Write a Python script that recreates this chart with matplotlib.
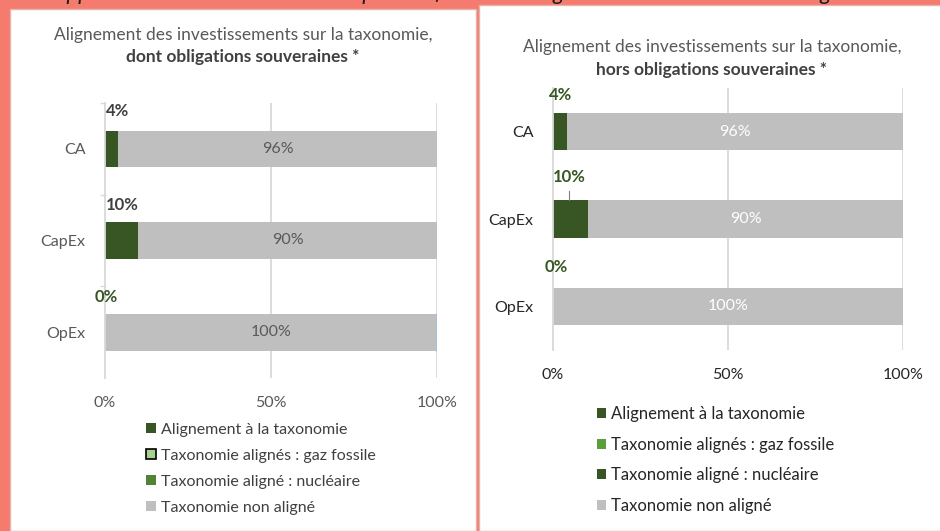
import numpy as np
import matplotlib
matplotlib.use("Agg")
from matplotlib import pyplot as plt
from matplotlib.patches import Rectangle, Patch

# Data (percent of investments)
categories = ["CA", "CapEx", "OpEx"]
aligned = [4, 10, 0]
gas = [0, 0, 0]
nuclear = [0, 0, 0]
not_aligned = [96, 90, 100]
legend_labels = ["Alignement à la taxonomie", "Taxonomie alignés : gaz fossile",
                 "Taxonomie aligné : nucléaire", "Taxonomie non aligné"]
xticks = [0, 50, 100]
xticklabels = ["0%", "50%", "100%"]

CORAL = "#F47B6E"
DARK_GREEN = "#375623"
GREY_BAR = "#BFBFBF"
GRID = "#D9D9D9"

W, H = 940, 531
plt.rcParams["font.family"] = ["Lato", "DejaVu Sans"]


def px(x0, y0, x1, y1):
    # pixel box (top-left origin) -> figure coords rect
    return [x0 / W, 1 - y1 / H, (x1 - x0) / W, (y1 - y0) / H]


def draw_panel(ax, bar_h, in_color, tick_color, boundary_ticks):
    y = np.arange(len(categories))
    left = np.zeros(len(categories))
    ax.barh(y, aligned, bar_h, left=left, color=DARK_GREEN)
    left += aligned
    ax.barh(y, gas, bar_h, left=left, color="#A9D18E")
    left += gas
    ax.barh(y, nuclear, bar_h, left=left, color="#548235")
    left += nuclear
    bars = ax.barh(y, not_aligned, bar_h, left=left, color=GREY_BAR)
    for b, v in zip(bars, not_aligned):
        ax.text(b.get_x() + b.get_width() / 2, b.get_y() + b.get_height() / 2, f"{v}%",
                ha="center", va="center", fontsize=11.5, color=in_color)
    ax.set_xlim(0, 100)
    ax.set_ylim(2.5, -0.5)
    ax.set_xticks(xticks, xticklabels)
    ax.set_yticks(y, categories)
    ax.tick_params(axis="x", length=0, pad=13, labelsize=11.5, labelcolor=tick_color)
    ax.tick_params(axis="y", length=0, pad=14, labelsize=11.5, labelcolor=tick_color)
    for s in ["top", "right", "bottom"]:
        ax.spines[s].set_visible(False)
    ax.spines["left"].set_color(GRID)
    ax.spines["left"].set_linewidth(1.3)
    for xv in [50, 100]:
        ax.axvline(xv, color=GRID, lw=1.3, zorder=0)
    ax.set_axisbelow(True)
    if boundary_ticks:
        for yb in [-0.5, 0.5, 1.5]:
            ax.plot([-1.2, 0], [yb, yb], color=GRID, lw=1, clip_on=False)
    ax.set_facecolor("none")


fig = plt.figure(figsize=(W / 100, H / 100), dpi=100, facecolor=CORAL)

# white panels
fig.patches.append(Rectangle((10 / W, 0), 466 / W, 1 - 9 / H, transform=fig.transFigure,
                             facecolor="white", edgecolor="#E9B3AD", lw=1, zorder=-5))
fig.patches.append(Rectangle((479 / W, 0), 465 / W, 1 - 5 / H, transform=fig.transFigure,
                             facecolor="white", edgecolor="#E9B3AD", lw=1, zorder=-5))

# clipped caption above the panels (only its lower edge shows, as in the source)
fig.text(0.5, 1.0, "Rapport de l'approche des investissements du produit financier : alignement avec et sans les obligations souveraines",
         ha="center", va="baseline", fontsize=16, style="italic", color="#1a1a1a", zorder=-6)

# ---- left panel
ax1 = fig.add_axes(px(105, 103, 437, 378))
draw_panel(ax1, 0.40, "#595959", "#595959", True)
fig.text(243 / W, 1 - 35 / H, "Alignement des investissements sur la taxonomie,",
         ha="center", va="center", fontsize=12.5, color="#595959")
fig.text(243 / W, 1 - 57 / H, "dont obligations souveraines *",
         ha="center", va="center", fontsize=12.5, color="#404040", weight="bold")
ax1.text(0.3, -0.41, f"{aligned[0]}%", ha="left", va="center", fontsize=12,
         weight="bold", color="#404040")
ax1.text(0.3, 0.61, f"{aligned[1]}%", ha="left", va="center", fontsize=12,
         weight="bold", color="#404040")
ax1.text(0.3, 1.62, f"{aligned[2]}%", ha="center", va="center", fontsize=12,
         weight="bold", color=DARK_GREEN)
# thin blue edge at the end of the OpEx bar
ax1.plot([100, 100], [2 - 0.2, 2 + 0.2], color="#9DC3E6", lw=1.2)

h1 = [Patch(facecolor=DARK_GREEN),
      Patch(facecolor="#A9D18E", edgecolor="black", lw=1.2),
      Patch(facecolor="#548235"),
      Patch(facecolor=GREY_BAR)]
fig.legend(h1, legend_labels, loc="upper left", bbox_to_anchor=(146 / W, 1 - 423 / H),
           frameon=False, fontsize=11.5, labelcolor="#404040", borderpad=0, borderaxespad=0,
           handlelength=0.6, handleheight=0.6, handletextpad=0.35, labelspacing=0.75)

# ---- right panel
ax2 = fig.add_axes(px(553, 88, 903, 350))
draw_panel(ax2, 0.43, "white", "#262626", False)
fig.text(712 / W, 1 - 47 / H, "Alignement des investissements sur la taxonomie,",
         ha="center", va="center", fontsize=12.5, color="#595959")
fig.text(712 / W, 1 - 70 / H, "hors obligations souveraines *",
         ha="center", va="center", fontsize=12.5, color="#404040", weight="bold")
ax2.text(2.3, -0.42, f"{aligned[0]}%", ha="center", va="center", fontsize=12,
         weight="bold", color=DARK_GREEN)
ax2.text(4.6, 0.52, f"{aligned[1]}%", ha="center", va="center", fontsize=12,
         weight="bold", color=DARK_GREEN)
ax2.plot([4.6, 4.6], [0.68, 0.78], color="#7f7f7f", lw=0.8)
ax2.text(1.0, 1.55, f"{aligned[2]}%", ha="center", va="center", fontsize=12,
         weight="bold", color=DARK_GREEN)

h2 = [Patch(facecolor=DARK_GREEN),
      Patch(facecolor="#5E9E3A"),
      Patch(facecolor=DARK_GREEN),
      Patch(facecolor=GREY_BAR)]
fig.legend(h2, legend_labels, loc="upper left", bbox_to_anchor=(597 / W, 1 - 406 / H),
           frameon=False, fontsize=12, labelcolor="#262626", borderpad=0, borderaxespad=0,
           handlelength=0.55, handleheight=0.55, handletextpad=0.3, labelspacing=0.88)

fig.savefig("out.png", dpi=100, facecolor=CORAL)
